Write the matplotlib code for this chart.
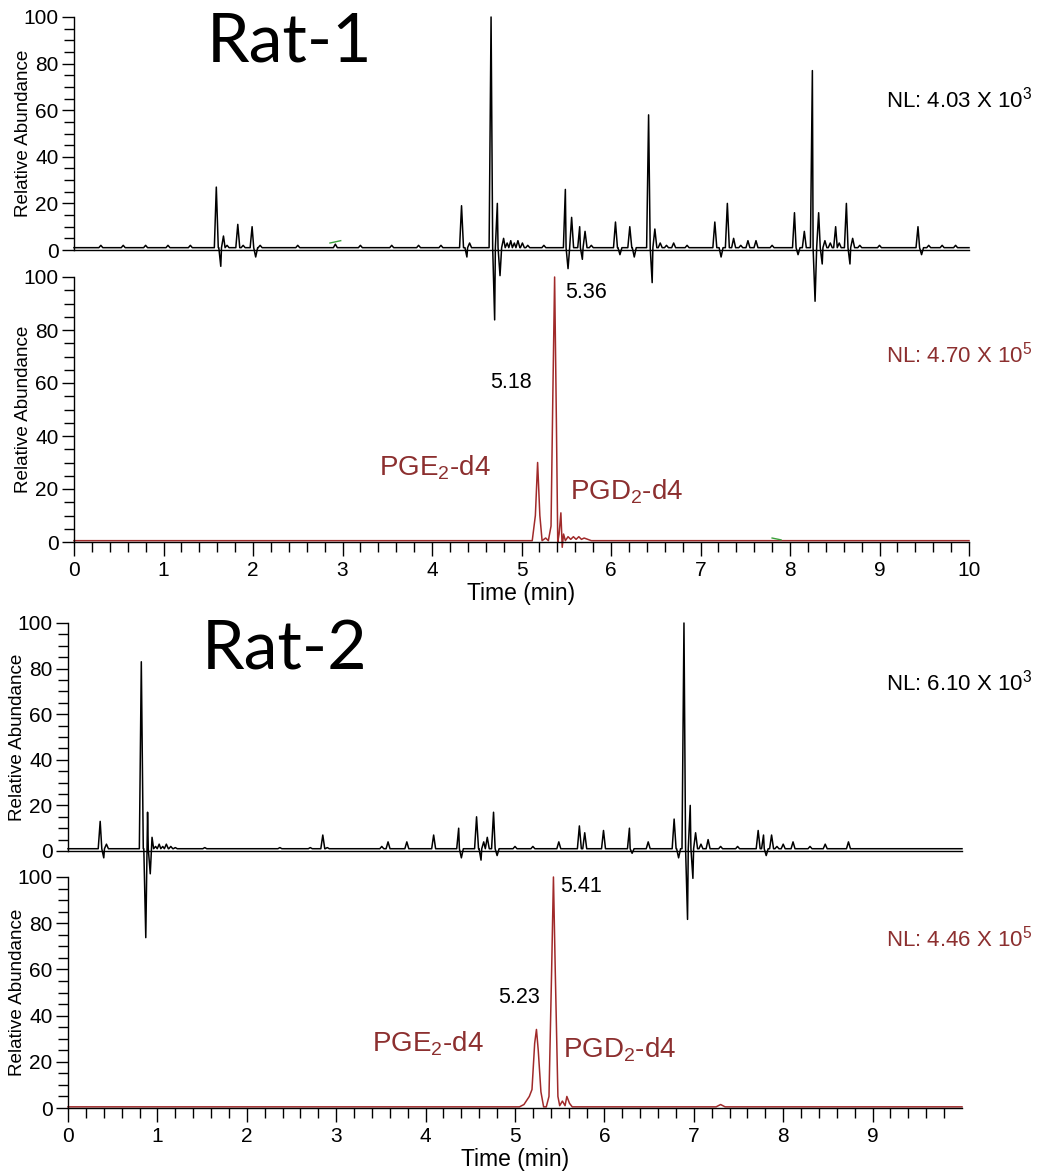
import numpy as np
import matplotlib
matplotlib.use("Agg")
import matplotlib.pyplot as plt
from matplotlib.ticker import MultipleLocator

plt.rcParams['font.family'] = ['Liberation Sans', 'DejaVu Sans']
plt.rcParams['mathtext.fontset'] = 'custom'
plt.rcParams['mathtext.rm'] = 'Liberation Sans'
plt.rcParams['mathtext.it'] = 'Liberation Sans:italic'
plt.rcParams['mathtext.bf'] = 'Liberation Sans:bold'

RED = '#a02a2a'
RED_TXT = '#8c2f2f'

# ---- Rat-1, upper trace (black): peak apex times (min) and relative heights (negative = dip)
r1_top_t = [0.30, 0.55, 0.80, 1.05, 1.30,
            1.59, 1.64, 1.67, 1.71, 1.83, 1.89, 1.99, 2.03, 2.08,
            2.50, 2.92, 3.20, 3.55, 3.85, 4.10,
            4.33, 4.39, 4.42, 4.66, 4.70, 4.73, 4.76, 4.80, 4.84, 4.88, 4.92, 4.96, 5.01, 5.07, 5.25,
            5.49, 5.52, 5.56, 5.65, 5.68, 5.71, 5.78,
            6.05, 6.10, 6.21, 6.26, 6.42, 6.46, 6.49, 6.55, 6.62, 6.70, 6.85,
            7.16, 7.23, 7.30, 7.37, 7.45, 7.53, 7.62, 7.80,
            8.05, 8.09, 8.16, 8.25, 8.28, 8.32, 8.36, 8.39, 8.45, 8.51, 8.55, 8.63, 8.67, 8.70, 8.78,
            9.00, 9.43, 9.47, 9.55, 9.70, 9.85]
r1_top_h = [2, 2, 2, 2, 2,
            27, -7, 6, 2, 11, 2, 10, -3, 2,
            2, 2.5, 2, 2, 2, 2,
            19, -3, 3, 100, -30, 20, -11, 5, 3, 4, 3, 4, 3, 2, 2,
            26, -8, 14, 10, -4, 8, 2,
            12, -2, 10, -3, 58, -14, 9, 3, 2, 3, 2,
            12, -3, 20, 5, 2, 4, 4, 2,
            16, -2, 8, 77, -22, 16, -6, 4, 3, 10, 3, 20, -6, 5, 2,
            2, 10, -2, 2, 2, 2]

# ---- Rat-1, lower trace (red)
r1_bot_t = [0.0, 5.12, 5.155, 5.18, 5.205, 5.23, 5.27, 5.30, 5.33, 5.35, 5.37, 5.39, 5.405, 5.42,
            5.44, 5.455, 5.47, 5.49, 5.52, 5.55, 5.58, 5.61, 5.64, 5.67, 5.70, 5.74, 5.78, 10.0]
r1_bot_h = [0.5, 0.5, 10, 30, 10, 0.5, 1.5, 0.5, 6, 55, 100, 45, 0, 3,
            11, -2, 3, 0.5, 2, 1, 2, 1, 2, 1, 1.5, 1, 0.5, 0.5]

# ---- Rat-2, upper trace (black)
r2_top_t = [0.36, 0.40, 0.43, 0.82, 0.87, 0.89, 0.92, 0.94, 0.98, 1.02, 1.06, 1.10, 1.15, 1.20,
            1.53, 2.37, 2.71, 2.85, 2.90, 3.51, 3.58, 3.79, 4.09,
            4.37, 4.40, 4.57, 4.62, 4.65, 4.69, 4.76, 4.80, 5.00, 5.20,
            5.49, 5.72, 5.78, 5.99, 6.28, 6.31, 6.49, 6.78, 6.83, 6.89, 6.93, 6.96, 6.99, 7.02,
            7.08, 7.16, 7.30, 7.49, 7.72, 7.78, 7.81, 7.87, 7.93, 8.00, 8.11, 8.30, 8.47, 8.73]
r2_top_h = [13, -3, 3, 83, -38, 17, -10, 6, 2, 3, 2, 3, 2, 1.5,
            1.5, 1.5, 1.5, 7, 1.5, 2, 4, 4, 7,
            10, -3, 15, -4, 4, 6, 17, -2, 2, 2,
            4, 11, 8, 9, 10, -1, 4, 14, -3, 100, -30, 20, -12, 8,
            3, 5, 2, 2, 9, 7, -2, 7, 2, 3, 4, 2, 3, 4]

# ---- Rat-2, lower trace (red)
r2_bot_t = [0.0, 5.05, 5.10, 5.16, 5.19, 5.22, 5.24, 5.26, 5.29, 5.32, 5.35, 5.38, 5.41, 5.43,
            5.45, 5.48, 5.50, 5.53, 5.56, 5.58, 5.61, 5.64, 7.25, 7.30, 7.35, 10.0]
r2_bot_h = [0.5, 0.5, 1.5, 5, 8, 28, 34, 25, 7, 0.5, 0.5, 5, 60, 100,
            60, 5, 1, 3, 1, 5, 2, 0.5, 0.5, 1.5, 0.5, 0.5]

# small green marks seen in the traces
green_r1_top_t, green_r1_top_h = [2.86, 2.98], [3.0, 4.0]
green_r1_bot_t, green_r1_bot_h = [7.80, 7.90], [1.5, 0.8]

nl_labels = ['NL: 4.03 X 10$^3$', 'NL: 4.70 X 10$^5$', 'NL: 6.10 X 10$^3$', 'NL: 4.46 X 10$^5$']


def spike_trace(ts, hs, base=1.0, w=0.022, tmax=10.0):
    xs, ys = [0.0], [base]
    for i, (t, h) in enumerate(zip(ts, hs)):
        if t - w > xs[-1]:
            xs.append(t - w); ys.append(base)
        xs.append(t); ys.append(h)
        nxt = ts[i + 1] if i + 1 < len(ts) else tmax + 1
        if nxt - w > t + w:
            xs.append(t + w); ys.append(base)
    xs.append(tmax); ys.append(base)
    return xs, ys


def style_axis(ax, xmax_label=10, show_x=True):
    ax.set_xlim(0, 10)
    ax.set_ylim(0, 100)
    ax.set_facecolor('none')
    for s in ['top', 'right']:
        ax.spines[s].set_visible(False)
    ax.spines['left'].set_linewidth(1.0)
    ax.spines['bottom'].set_linewidth(1.0)
    ax.set_yticks(range(0, 101, 20))
    ax.yaxis.set_minor_locator(MultipleLocator(5))
    ax.tick_params(axis='y', which='major', direction='out', length=9, width=1, labelsize=15, pad=2)
    ax.tick_params(axis='y', which='minor', direction='out', length=7, width=1)
    ax.set_ylabel('Relative Abundance', fontsize=13.6)
    if show_x:
        ax.set_xticks(range(0, xmax_label + 1))
        ax.set_xticks(np.arange(0.2, 9.9, 0.2), minor=True)
        ax.tick_params(axis='x', which='major', direction='out', length=10, width=1, labelsize=15, pad=4)
        ax.tick_params(axis='x', which='minor', direction='out', length=7, width=1)
        ax.set_xlabel('Time (min)', fontsize=16.5, labelpad=1)
    else:
        ax.set_xticks([])


W, H = 1039, 1173
fig = plt.figure(figsize=(W / 100, H / 100), dpi=100)
fig.patch.set_facecolor('white')


def box(left, right, top, bottom):
    return [left / W, 1 - bottom / H, (right - left) / W, (bottom - top) / H]


ax2 = fig.add_axes(box(74, 969, 277, 542))
ax1 = fig.add_axes(box(74, 969, 17, 250))
ax4 = fig.add_axes(box(68, 962, 877, 1108))
ax3 = fig.add_axes(box(68, 962, 623, 851))

style_axis(ax1, show_x=False)
style_axis(ax2, xmax_label=10)
style_axis(ax3, show_x=False)
style_axis(ax4, xmax_label=9)

for ax in (ax1, ax2, ax3, ax4):
    ax.yaxis.set_label_coords(-0.047, 0.5)

x, y = spike_trace(r1_top_t, r1_top_h)
ax1.plot(x, y, color='black', lw=1.1, clip_on=False, zorder=5)
ax1.plot(green_r1_top_t, green_r1_top_h, color='#3aa03a', lw=1)

ax2.plot(r1_bot_t, r1_bot_h, color=RED, lw=1.1, clip_on=False)
ax2.plot(green_r1_bot_t, green_r1_bot_h, color='#3aa03a', lw=1)

x, y = spike_trace(r2_top_t, r2_top_h)
ax3.plot(x, y, color='black', lw=1.1, clip_on=False, zorder=5)

ax4.plot(r2_bot_t, r2_bot_h, color=RED, lw=1.1, clip_on=False)

# peak annotations
ax2.text(5.49, 94, '5.36', fontsize=15.5, ha='left', va='center')
ax2.text(4.88, 60, '5.18', fontsize=15.5, ha='center', va='center')
ax2.text(4.03, 28, 'PGE$_2$-d4', fontsize=20, ha='center', va='center', color=RED_TXT)
ax2.text(6.17, 19, 'PGD$_2$-d4', fontsize=20, ha='center', va='center', color=RED_TXT)

ax4.text(5.51, 96, '5.41', fontsize=15.5, ha='left', va='center')
ax4.text(5.04, 48, '5.23', fontsize=15.5, ha='center', va='center')
ax4.text(4.03, 28, 'PGE$_2$-d4', fontsize=20, ha='center', va='center', color=RED_TXT)
ax4.text(6.17, 25, 'PGD$_2$-d4', fontsize=20, ha='center', va='center', color=RED_TXT)

# sample titles
fig.text(290 / W, 1 - 42 / H, 'Rat-1', fontsize=49, family='Lato', ha='center', va='center')
fig.text(285 / W, 1 - 650 / H, 'Rat-2', fontsize=49, family='Lato', ha='center', va='center')

# normalisation levels
for lbl, ypx, col in zip(nl_labels, [100, 355, 683, 939], ['black', RED_TXT, 'black', RED_TXT]):
    fig.text(1032 / W, 1 - ypx / H, lbl, fontsize=16, ha='right', va='center', color=col)

fig.savefig('out.png', dpi=100)
